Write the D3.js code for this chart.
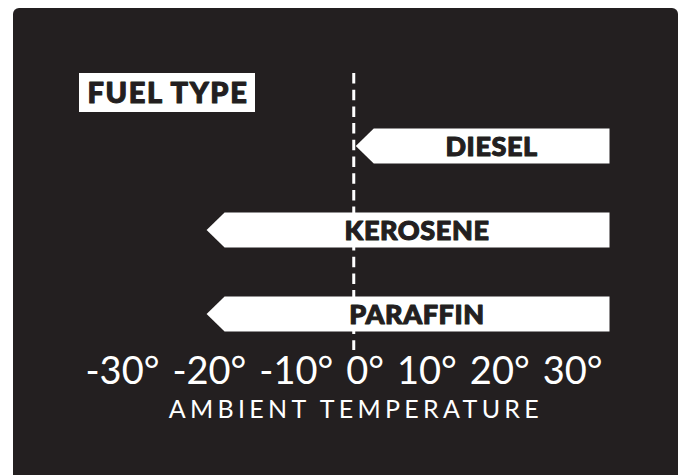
<!DOCTYPE html>
<html>
<head>
<meta charset="UTF-8">
<title>Fuel type by ambient temperature</title>
<script src="https://cdn.jsdelivr.net/npm/d3@7"></script>
<style>
	body { margin: 0; background: #fff; }
	svg { display: block; }
</style>
</head>
<body>
<svg id="chart" width="685" height="475"></svg>
<script>
// values
var fuelTypes = ["DIESEL", "KEROSENE", "PARAFFIN"];
var minTemps = [0, -20, -20];          // lowest usable ambient temperature
var tickValues = [-30, -20, -10, 0, 10, 20, 30];
var tickLabels = ["-30°", "-20°", "-10°", "0°", "10°", "20°", "30°"];

var dark = "#231f20";
var heavy = "Lato, Roboto, Inter, sans-serif";
var light = "Lato, 'Open Sans', sans-serif";

var svg = d3.select("#chart");

// dark panel behind everything
svg.append("rect")
	.attr("x", 13).attr("y", 8)
	.attr("width", 665).attr("height", 480)
	.attr("rx", 6)
	.attr("fill", dark);

var x = d3.scaleLinear().domain([-30, 30]).range([130, 577.5]);
var y = d3.scalePoint().domain(fuelTypes).range([146, 314]);

var barH = 35, headLen = 18, overhang = 32;

// heavy labels get a thin stroke of their own colour to look black-weight
var heavyText = function (sel, size, spacing) {
	sel.attr("text-anchor", "middle")
		.style("font-family", heavy)
		.style("font-weight", 900)
		.style("font-size", size + "px")
		.style("letter-spacing", spacing + "px")
		.attr("fill", dark)
		.attr("stroke", dark)
		.attr("stroke-width", 1.1)
		.attr("stroke-linejoin", "round");
};

// title box
var title = svg.append("g");
title.append("rect")
	.attr("x", 79).attr("y", 73)
	.attr("width", 176).attr("height", 39)
	.attr("fill", "#fff");
title.append("text")
	.text("FUEL TYPE")
	.attr("x", 168).attr("y", 103)
	.call(heavyText, 29, 1.6);

// zero line
svg.append("line")
	.attr("x1", x(0)).attr("x2", x(0))
	.attr("y1", 73).attr("y2", 350)
	.attr("stroke", "#fff")
	.attr("stroke-width", 3)
	.attr("stroke-dasharray", "10.5 6.2");

// arrows: tip at the minimum temperature, open ended to the right
var rows = fuelTypes.map(function (d, i) { return { name: d, min: minTemps[i] }; });

var arrow = svg.selectAll("g.arrow").data(rows).enter().append("g")
	.attr("class", "arrow");

arrow.append("path")
	.attr("d", function (d) {
		var tip = x(d.min) + 2, right = x(30) + overhang;
		var cy = y(d.name), top = cy - barH / 2, bot = cy + barH / 2;
		return "M" + tip + "," + cy +
			"L" + (tip + headLen) + "," + top +
			"L" + right + "," + top +
			"L" + right + "," + bot +
			"L" + (tip + headLen) + "," + bot + "Z";
	})
	.attr("fill", "#fff");

arrow.append("text")
	.text(function (d) { return d.name; })
	.attr("x", function (d) { return (x(d.min) + 2 + headLen + x(30) + overhang) / 2; })
	.attr("y", function (d) { return y(d.name) + 10; })
	.call(heavyText, 27, 0.6);

// temperature axis
var axis = d3.axisBottom(x)
	.tickValues(tickValues)
	.tickFormat(function (d, i) { return tickLabels[i]; })
	.tickSize(0);

var ax = svg.append("g")
	.attr("transform", "translate(0,384)")
	.call(axis);
ax.select(".domain").remove();

var labels = ax.selectAll("text")
	.attr("y", 0).attr("dy", null)
	.attr("text-anchor", "start")
	.attr("fill", "#fff")
	.style("font-family", light)
	.style("font-size", "38px");

// the labels are set as one run of text (about 517px wide),
// so flow them out from the 0° label with even gaps
var widths = [];
labels.each(function () { widths.push(this.getComputedTextLength()); });
var gap = (517 - d3.sum(widths)) / (widths.length - 1);
var zi = tickValues.indexOf(0);
var lefts = [];
lefts[zi] = x(0) - 8;
for (var i = zi - 1; i >= 0; i--) lefts[i] = lefts[i + 1] - gap - widths[i];
for (var j = zi + 1; j < tickValues.length; j++) lefts[j] = lefts[j - 1] + widths[j - 1] + gap;
labels.attr("x", function (d, i) { return lefts[i] - x(d); });

svg.append("text")
	.text("AMBIENT TEMPERATURE")
	.attr("x", x(0)).attr("y", 417.5)
	.attr("text-anchor", "middle")
	.attr("textLength", 370)
	.attr("lengthAdjust", "spacing")
	.attr("fill", "#fff")
	.style("font-family", light)
	.style("font-size", "25px");
</script>
</body>
</html>
